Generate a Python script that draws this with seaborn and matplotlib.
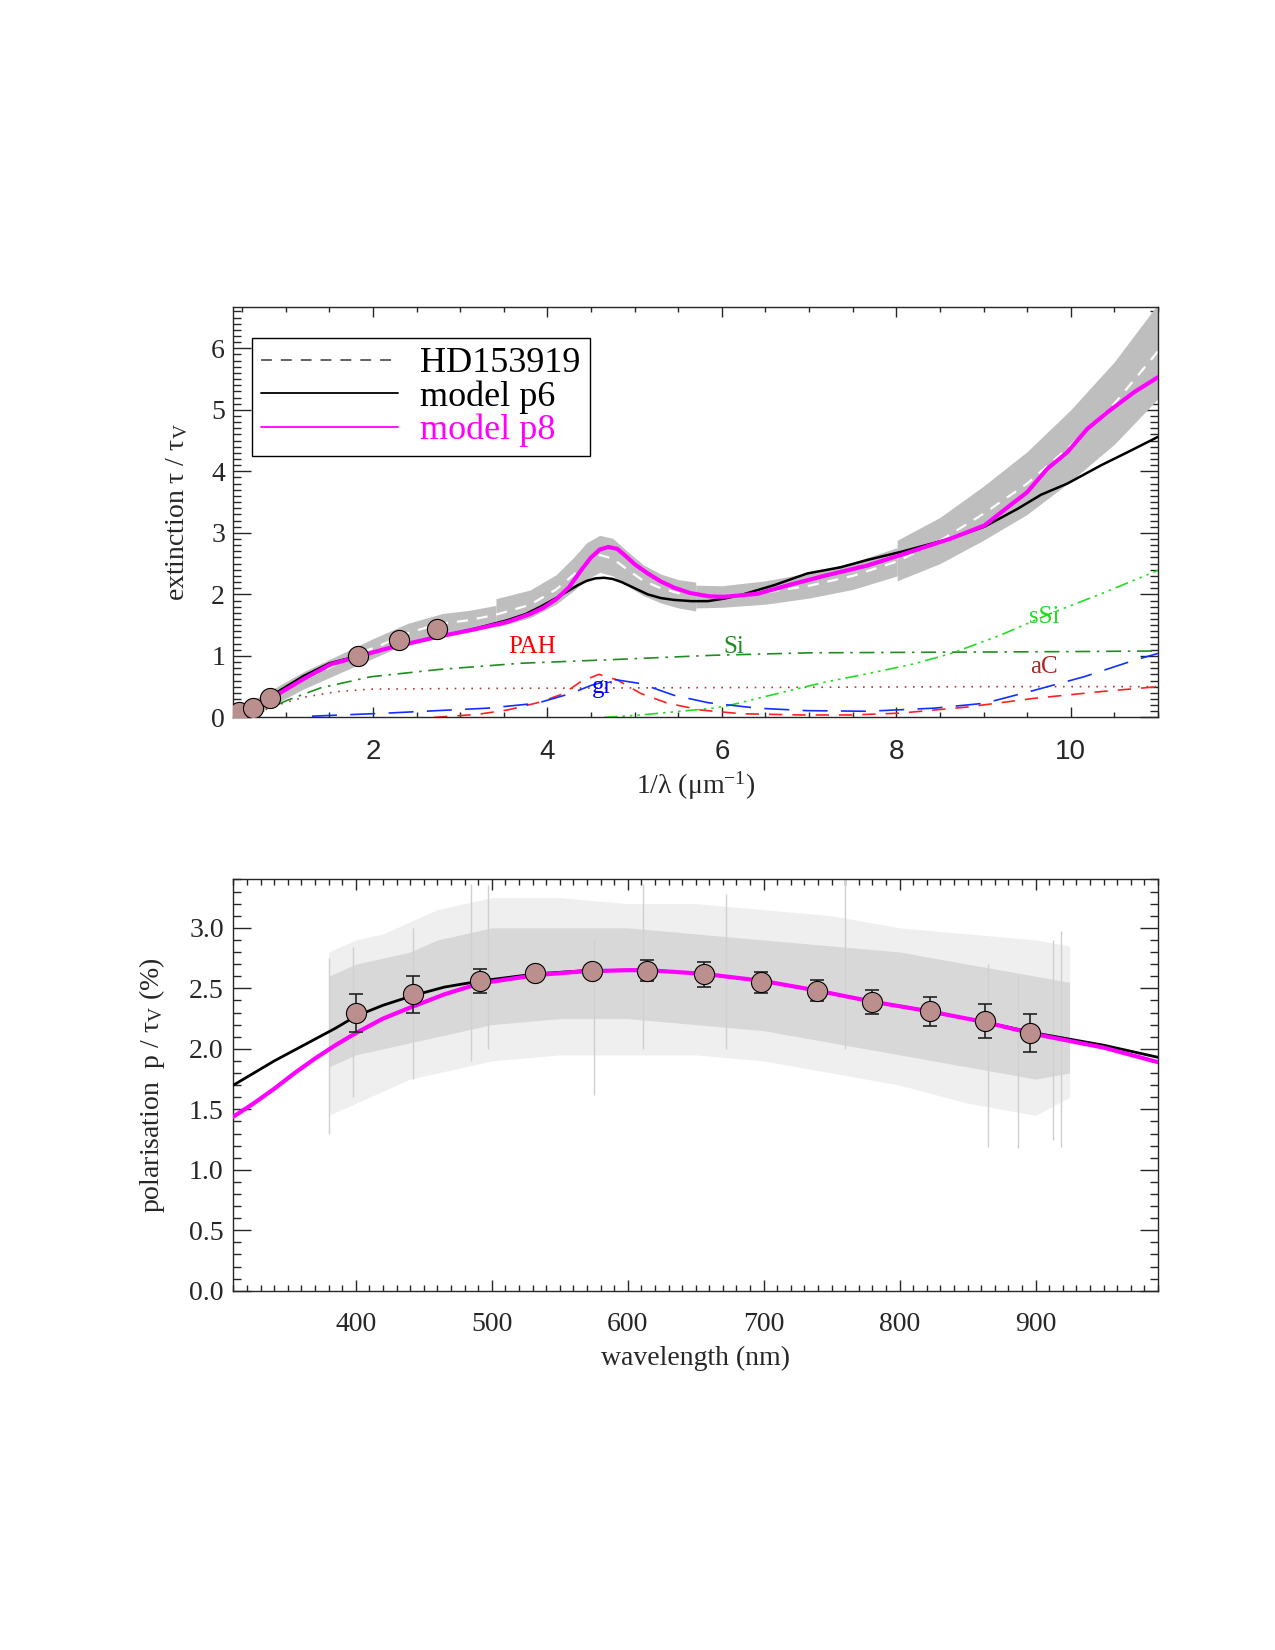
import numpy as np
import matplotlib
matplotlib.use("Agg")
import matplotlib.pyplot as plt
import seaborn as sns
from matplotlib.ticker import MultipleLocator, FormatStrFormatter
from matplotlib.lines import Line2D

# ---------------- top panel data (extinction) ----------------
phot_x = [0.46, 0.62, 0.82, 1.83, 2.30, 2.73]
phot_y = [0.09, 0.156, 0.31, 1.00, 1.26, 1.44]

hd_x = [0.45, 0.6, 0.8, 1.0, 1.25, 1.5, 1.84, 2.1, 2.4, 2.75, 3.1, 3.41, 3.8, 4.1, 4.3,
        4.45, 4.6, 4.75, 4.9, 5.1, 5.3, 5.5, 5.7, 6.0, 6.5, 7.0, 7.5, 8.0, 8.5, 9.0,
        9.5, 10.0, 10.5, 11.0]
hd_y = [0.02, 0.13, 0.29, 0.45, 0.64, 0.81, 1.04, 1.18, 1.37, 1.52, 1.58, 1.67, 1.83, 2.08, 2.32,
        2.52, 2.64, 2.58, 2.42, 2.22, 2.10, 2.02, 1.99, 1.97, 2.03, 2.14, 2.30, 2.53, 2.87, 3.31,
        3.80, 4.42, 5.10, 5.95]

# uncertainty band, four segments
bandA_x = [0.45, 0.8, 1.2, 1.6, 2.0, 2.4, 2.8, 3.1, 3.41]
bandA_lo = [-0.10, 0.16, 0.46, 0.71, 0.96, 1.21, 1.37, 1.42, 1.51]
bandA_hi = [0.14, 0.42, 0.74, 1.01, 1.28, 1.53, 1.69, 1.74, 1.82]
bandB_x = [3.41, 3.8, 4.1, 4.3, 4.45, 4.6, 4.75, 4.9, 5.1, 5.3, 5.5, 5.70]
bandB_lo = [1.47, 1.62, 1.84, 2.06, 2.24, 2.36, 2.30, 2.15, 1.98, 1.86, 1.78, 1.73]
bandB_hi = [1.93, 2.07, 2.32, 2.60, 2.84, 2.96, 2.91, 2.72, 2.48, 2.33, 2.24, 2.20]
bandC_x = [5.70, 6.0, 6.5, 7.0, 7.5, 8.01]
bandC_lo = [1.78, 1.79, 1.84, 1.94, 2.08, 2.30]
bandC_hi = [2.15, 2.14, 2.22, 2.35, 2.52, 2.76]
bandD_x = [8.01, 8.5, 9.0, 9.5, 10.0, 10.5, 11.0]
bandD_lo = [2.22, 2.50, 2.88, 3.30, 3.84, 4.44, 5.18]
bandD_hi = [2.88, 3.25, 3.76, 4.32, 5.00, 5.78, 6.72]

p6_x = [0.45, 0.75, 1.2, 1.5, 1.83, 2.16, 2.78, 3.16, 3.54, 3.75, 3.92, 4.1, 4.23, 4.35,
        4.45, 4.55, 4.65, 4.75, 4.85, 5.0, 5.15, 5.3, 5.45, 5.65, 5.84, 6.02, 6.22, 6.60,
        6.98, 7.36, 7.67, 8.05, 8.63, 9.01, 9.39, 9.66, 9.96, 10.35, 10.65, 11.0]
p6_y = [0.03, 0.28, 0.67, 0.88, 1.00, 1.12, 1.32, 1.44, 1.58, 1.68, 1.80, 1.94, 2.05, 2.15,
        2.22, 2.26, 2.27, 2.25, 2.20, 2.10, 2.00, 1.94, 1.91, 1.89, 1.89, 1.93, 1.99, 2.15,
        2.34, 2.44, 2.56, 2.69, 2.91, 3.10, 3.39, 3.62, 3.80, 4.10, 4.31, 4.56]

p8_x = [0.45, 0.65, 0.83, 1.21, 1.51, 1.83, 2.16, 2.74, 3.16, 3.54, 3.8, 3.95, 4.1, 4.25,
        4.4, 4.5, 4.6, 4.7, 4.8, 4.9, 5.0, 5.15, 5.3, 5.45, 5.64, 5.85, 6.02, 6.41, 6.79,
        7.17, 7.67, 8.05, 8.63, 9.01, 9.28, 9.50, 9.73, 9.96, 10.19, 10.42, 10.73, 11.0]
p8_y = [0.02, 0.14, 0.31, 0.63, 0.86, 0.99, 1.12, 1.31, 1.43, 1.55, 1.68, 1.78, 1.92, 2.12,
        2.42, 2.60, 2.73, 2.77, 2.74, 2.62, 2.49, 2.34, 2.21, 2.11, 2.02, 1.97, 1.96, 2.01, 2.16,
        2.30, 2.47, 2.64, 2.91, 3.12, 3.42, 3.66, 4.04, 4.31, 4.69, 4.96, 5.29, 5.53]

# dust components
pah_x = [2.7, 3.2, 3.54, 3.92, 4.19, 4.38, 4.59, 4.80, 5.07, 5.38, 5.76, 6.22, 6.9, 7.5,
         8.05, 8.82, 9.58, 10.35, 11.0]
pah_y = [0.0, 0.05, 0.12, 0.25, 0.39, 0.58, 0.70, 0.61, 0.39, 0.23, 0.12, 0.06, 0.04, 0.04,
         0.07, 0.17, 0.31, 0.42, 0.50]
gr_x = [1.3, 2.16, 3.31, 3.88, 4.27, 4.5, 4.75, 5.07, 5.45, 5.84, 6.41, 6.98, 7.67, 8.43,
        9.01, 9.58, 10.15, 10.73, 11.0]
gr_y = [0.02, 0.07, 0.15, 0.23, 0.39, 0.52, 0.62, 0.55, 0.36, 0.24, 0.15, 0.11, 0.10, 0.15,
        0.23, 0.44, 0.66, 0.93, 1.04]
ac_x = [0.6, 0.83, 1.21, 1.59, 1.97, 3.0, 5.0, 7.0, 9.0, 11.0]
ac_y = [0.0, 0.17, 0.33, 0.42, 0.46, 0.47, 0.48, 0.49, 0.50, 0.50]
si_x = [0.6, 0.72, 1.02, 1.40, 1.97, 2.76, 3.69, 4.75, 5.9, 7.0, 8.5, 10.0, 11.0]
si_y = [0.0, 0.09, 0.28, 0.48, 0.66, 0.78, 0.88, 0.94, 1.01, 1.05, 1.06, 1.07, 1.08]
ssi_x = [4.65, 5.07, 5.45, 5.9, 6.1, 6.41, 6.79, 7.17, 7.67, 8.2, 8.63, 9.2, 9.77, 10.35, 11.0]
ssi_y = [0.0, 0.04, 0.09, 0.15, 0.20, 0.31, 0.44, 0.57, 0.71, 0.87, 1.04, 1.34, 1.69, 2.01, 2.39]

comp_labels = ["PAH", "Si", "gr", "sSi", "aC"]
comp_label_x = [3.82, 6.14, 4.63, 9.70, 9.69]
comp_label_y = [1.15, 1.15, 0.50, 1.64, 0.82]
comp_label_col = ["#ff0000", "#228b22", "#0000ff", "#22dd22", "#a52a2a"]

legend_labels = ["HD153919", "model p6", "model p8"]
top_xticks = [2, 4, 6, 8, 10]
top_xticklabels = ["2", "4", "6", "8", "10"]

# ---------------- bottom panel data (polarisation) ----------------
pol_wl = [400, 442, 491, 532, 574, 614, 656, 698, 739, 780, 822, 863, 896]
pol_val = [2.295, 2.45, 2.56, 2.625, 2.647, 2.645, 2.615, 2.55, 2.48, 2.39, 2.31, 2.23, 2.13]
pol_err = [0.155, 0.15, 0.10, 0.03, 0.03, 0.088, 0.10, 0.085, 0.085, 0.10, 0.12, 0.14, 0.16]

pol_p6_x = [310, 325, 340, 355, 370, 385, 400, 420, 442, 465, 491, 533, 567, 600, 615, 656,
            700, 740, 780, 822, 863, 900, 950, 990]
pol_p6_y = [1.70, 1.80, 1.90, 1.99, 2.08, 2.17, 2.27, 2.36, 2.44, 2.51, 2.56, 2.62, 2.645,
            2.65, 2.65, 2.62, 2.56, 2.48, 2.39, 2.31, 2.22, 2.13, 2.03, 1.93]
pol_p8_x = [310, 325, 340, 355, 370, 385, 400, 420, 442, 465, 491, 533, 567, 600, 615, 656,
            700, 740, 780, 822, 863, 900, 950, 990]
pol_p8_y = [1.44, 1.55, 1.67, 1.80, 1.92, 2.03, 2.13, 2.25, 2.35, 2.45, 2.54, 2.61, 2.64,
            2.65, 2.65, 2.62, 2.56, 2.48, 2.39, 2.31, 2.22, 2.12, 2.01, 1.89]

# envelope of the noisy observed spectrum
spec_wl = [380, 400, 420, 440, 460, 480, 500, 550, 600, 650, 700, 750, 800, 850, 900, 925]
spec_out_hi = [2.8, 2.9, 2.95, 3.05, 3.15, 3.2, 3.25, 3.25, 3.2, 3.2, 3.15, 3.1, 3.0, 2.95, 2.9, 2.85]
spec_out_lo = [1.45, 1.55, 1.65, 1.75, 1.8, 1.85, 1.9, 1.95, 1.95, 1.95, 1.9, 1.8, 1.7, 1.55, 1.45, 1.6]
spec_core_hi = [2.6, 2.7, 2.75, 2.8, 2.9, 2.95, 3.0, 3.0, 3.0, 2.95, 2.9, 2.85, 2.8, 2.7, 2.6, 2.55]
spec_core_lo = [1.85, 1.95, 2.0, 2.05, 2.1, 2.15, 2.2, 2.25, 2.25, 2.2, 2.15, 2.05, 1.95, 1.85, 1.75, 1.8]
spike_wl = [380, 398, 442, 485, 497, 575, 611, 672, 760, 865, 887, 913, 919]
spike_lo = [1.3, 1.6, 1.75, 1.9, 2.0, 1.62, 2.0, 2.0, 2.0, 1.19, 1.18, 1.25, 1.19]
spike_hi = [2.75, 2.84, 3.0, 3.36, 3.35, 2.9, 3.36, 3.28, 3.4, 2.7, 2.6, 2.9, 2.97]

# ---------------- style ----------------
sns.set_style("ticks")
plt.rcParams["font.family"] = ["Liberation Serif", "DejaVu Serif"]
plt.rcParams["mathtext.fontset"] = "custom"
plt.rcParams["mathtext.rm"] = "Liberation Serif"
plt.rcParams["mathtext.it"] = "Liberation Serif:italic"
plt.rcParams["axes.linewidth"] = 1.0

fig = plt.figure(figsize=(12.75, 16.5), dpi=100)
ax1 = fig.add_axes([0.1831, 0.5652, 0.7251, 0.2487])
ax2 = fig.add_axes([0.1831, 0.2177, 0.7251, 0.2493])

band_col = "#bebebe"
for bx, blo, bhi in [(bandA_x, bandA_lo, bandA_hi), (bandB_x, bandB_lo, bandB_hi),
                     (bandC_x, bandC_lo, bandC_hi), (bandD_x, bandD_lo, bandD_hi)]:
    ax1.fill_between(bx, blo, bhi, color=band_col, lw=0, zorder=1)

sns.lineplot(x=hd_x, y=hd_y, ax=ax1, color="white", lw=1.6, linestyle=(0, (5, 4)),
             estimator=None, sort=False, zorder=2)

sns.lineplot(x=ac_x, y=ac_y, ax=ax1, color="#b03a3a", lw=1.2, linestyle=(0, (1, 4)),
             estimator=None, sort=False, zorder=2)
sns.lineplot(x=si_x, y=si_y, ax=ax1, color="#228b22", lw=1.2, linestyle=(0, (9, 4, 1.5, 4)),
             estimator=None, sort=False, zorder=2)
sns.lineplot(x=ssi_x, y=ssi_y, ax=ax1, color="#22dd22", lw=1.2,
             linestyle=(0, (8, 3, 1.5, 3, 1.5, 3, 1.5, 3)),
             estimator=None, sort=False, zorder=2)
sns.lineplot(x=pah_x, y=pah_y, ax=ax1, color="#ff2020", lw=1.2, linestyle=(0, (8, 6)),
             estimator=None, sort=False, zorder=2)
sns.lineplot(x=gr_x, y=gr_y, ax=ax1, color="#1030ff", lw=1.2, linestyle=(0, (15, 8)),
             estimator=None, sort=False, zorder=2)

sns.lineplot(x=p6_x, y=p6_y, ax=ax1, color="black", lw=1.8, estimator=None, sort=False, zorder=3)
sns.lineplot(x=p8_x, y=p8_y, ax=ax1, color="magenta", lw=3.0, estimator=None, sort=False, zorder=4)

sns.scatterplot(x=phot_x, y=phot_y, ax=ax1, s=210, color="#bc8f8f", edgecolor="black",
                linewidth=0.8, zorder=5)

for lab, lx, ly, lc in zip(comp_labels, comp_label_x, comp_label_y, comp_label_col):
    ax1.text(lx, ly, lab, color=lc, fontsize=18, ha="center", va="center", zorder=6)

ax1.set_xlim(0.4, 11.0)
ax1.set_ylim(0, 6.67)
ax1.set_xticks(top_xticks)
ax1.set_xticklabels(top_xticklabels, fontfamily="Liberation Sans", fontsize=20)
ax1.xaxis.set_minor_locator(MultipleLocator(0.5))
ax1.yaxis.set_major_locator(MultipleLocator(1))
ax1.yaxis.set_minor_locator(MultipleLocator(0.1))
ax1.tick_params(axis="x", which="major", direction="in", length=7, width=1, top=True, pad=15.5)
ax1.tick_params(axis="x", which="minor", direction="in", length=3.5, width=1, top=True)
ax1.tick_params(axis="y", which="major", direction="in", length=13, width=1, right=True,
                labelsize=20, pad=6)
ax1.tick_params(axis="y", which="minor", direction="in", length=5.5, width=1, right=True)
ax1.set_xlabel("1/λ (μm$^{-1}$)", fontsize=20)
ax1.set_ylabel("extinction τ / τ$_{\\mathrm{V}}$", fontsize=20)
ax1.xaxis.set_label_coords(0.5, -0.128)
ax1.yaxis.set_label_coords(-0.047, 0.5)

handles = [Line2D([], [], color="#555555", lw=1.3, linestyle=(0, (6, 5))),
           Line2D([], [], color="black", lw=1.3),
           Line2D([], [], color="magenta", lw=1.3)]
leg = ax1.legend(handles, legend_labels, loc="upper left", bbox_to_anchor=(0.0203, 0.9245),
                 borderaxespad=0, fontsize=26, handlelength=3.8, handletextpad=0.6,
                 labelspacing=0.0, borderpad=0.25, frameon=True, fancybox=False,
                 edgecolor="black", framealpha=1)
leg.get_frame().set_linewidth(1.0)
for t, c in zip(leg.get_texts(), ["black", "black", "magenta"]):
    t.set_color(c)

# ---------------- bottom panel ----------------
ax2.fill_between(spec_wl, spec_out_lo, spec_out_hi, color="#efefef", lw=0, zorder=1)
ax2.fill_between(spec_wl, spec_core_lo, spec_core_hi, color="#d8d8d8", lw=0, zorder=1)
ax2.vlines(spike_wl, spike_lo, spike_hi, color="#d0d0d0", lw=1.0, zorder=1)

sns.lineplot(x=pol_p6_x, y=pol_p6_y, ax=ax2, color="black", lw=2.0, estimator=None, sort=False, zorder=3)
sns.lineplot(x=pol_p8_x, y=pol_p8_y, ax=ax2, color="magenta", lw=3.0, estimator=None, sort=False, zorder=4)
ax2.errorbar(pol_wl, pol_val, yerr=pol_err, fmt="none", ecolor="#222222", elinewidth=1.2,
             capsize=5, capthick=1.2, zorder=5)
sns.scatterplot(x=pol_wl, y=pol_val, ax=ax2, s=210, color="#bc8f8f", edgecolor="black",
                linewidth=0.8, zorder=6)

ax2.set_xlim(310, 990)
ax2.set_ylim(0, 3.4)
ax2.xaxis.set_major_locator(MultipleLocator(100))
ax2.xaxis.set_minor_locator(MultipleLocator(10))
ax2.yaxis.set_major_locator(MultipleLocator(0.5))
ax2.yaxis.set_minor_locator(MultipleLocator(0.1))
ax2.yaxis.set_major_formatter(FormatStrFormatter("%.1f"))
ax2.tick_params(axis="x", which="major", direction="in", length=8, width=1, top=True,
                labelsize=20, pad=15)
ax2.tick_params(axis="x", which="minor", direction="in", length=4, width=1, top=True)
ax2.tick_params(axis="y", which="major", direction="in", length=13, width=1, right=True,
                labelsize=20, pad=7)
ax2.tick_params(axis="y", which="minor", direction="in", length=5.5, width=1, right=True)
ax2.set_xlabel("wavelength (nm)", fontsize=20)
ax2.set_ylabel("polarisation  p / τ$_{\\mathrm{V}}$ (%)", fontsize=20)
ax2.xaxis.set_label_coords(0.5, -0.135)
ax2.yaxis.set_label_coords(-0.072, 0.5)

fig.savefig("out.png", dpi=100)
